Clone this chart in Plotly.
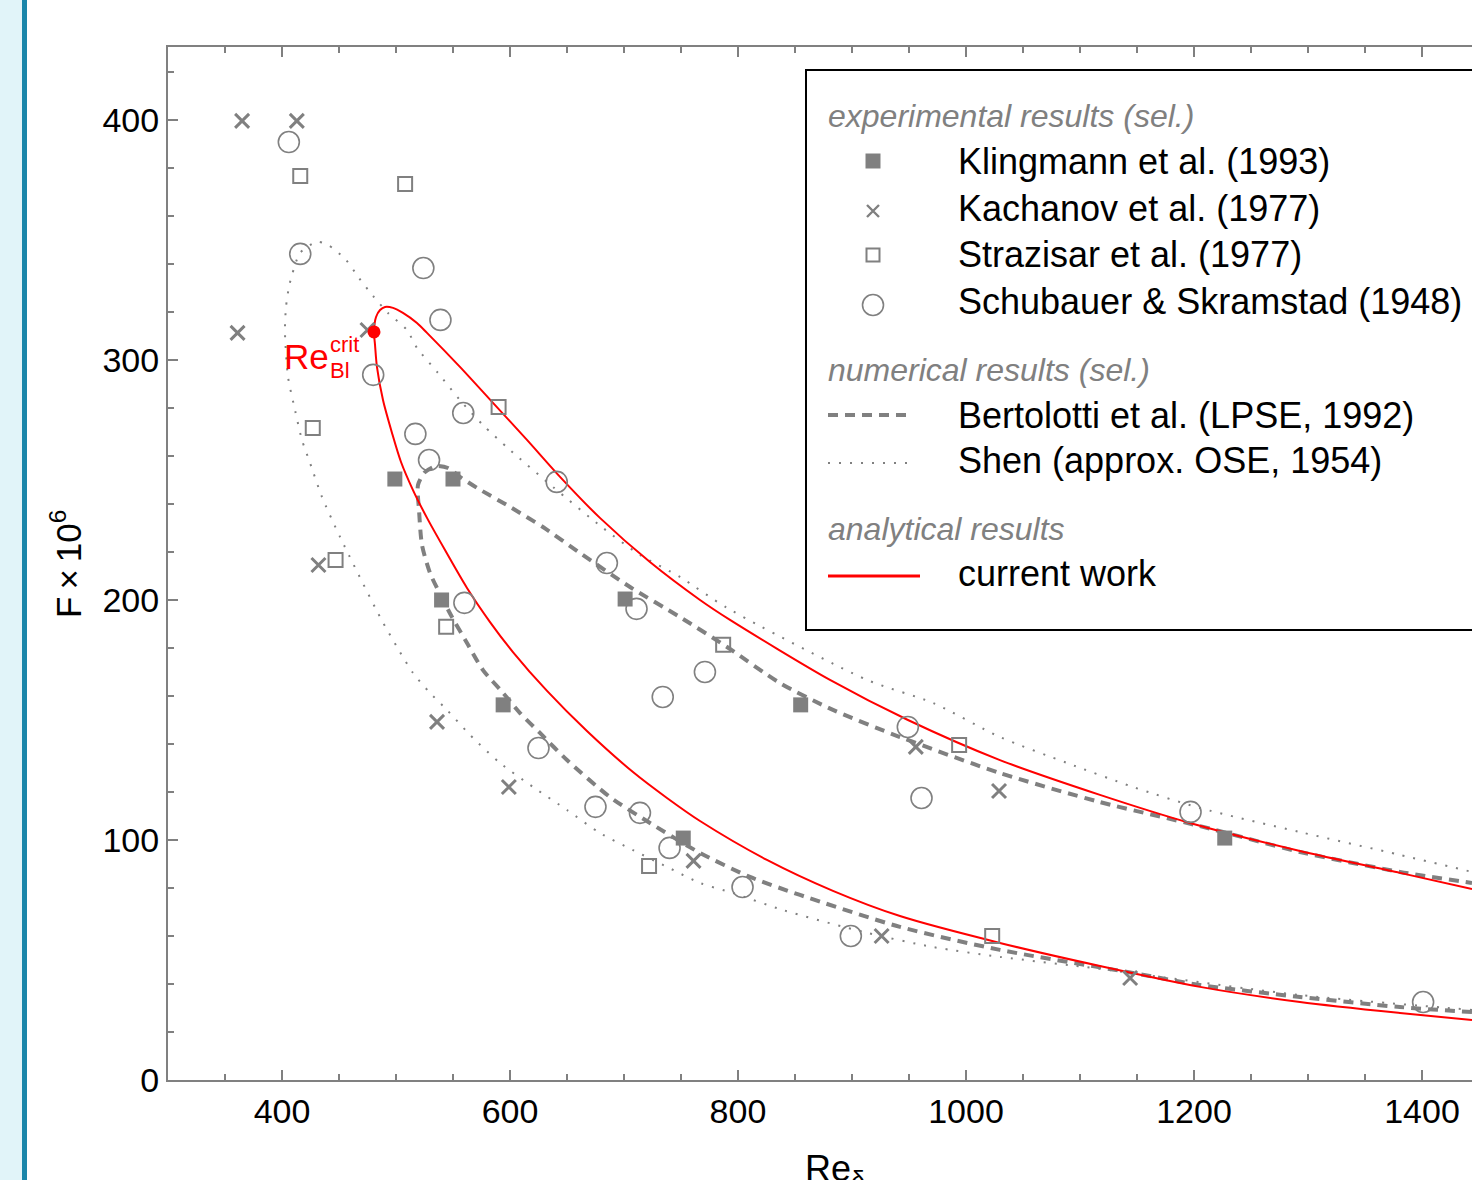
import plotly.graph_objects as go

# ---------------- data ----------------
X_RANGE = [300, 1443.9]
Y_RANGE = [0, 430.4]

klingmann_re = [499, 550, 540, 701, 594, 855, 752, 1227]
klingmann_f = [250.4, 250.4, 200, 200.4, 156.3, 156.3, 100.8, 100.8]

kachanov_re = [365, 413, 361, 475, 432, 536, 599, 761, 956, 1029, 926, 1144]
kachanov_f = [399.6, 399.6, 311.3, 312.5, 214.6, 149.2, 122.1, 91.3, 138.8, 120.4, 60, 42.5]

strazisar_re = [416, 508, 427, 447, 544, 590, 787, 722, 994, 1023]
strazisar_f = [376.7, 373.3, 271.7, 216.7, 188.8, 280.4, 181.3, 89.2, 139.6, 60]

schubauer_re = [406, 416, 524, 539, 480, 559, 517, 529, 641, 685, 711, 560,
                771, 734, 625, 675, 714, 740, 804, 899, 949, 961, 1197, 1401]
schubauer_f = [390.8, 344.2, 338.3, 316.7, 293.8, 277.9, 269.2, 258.3, 249.2, 215.4, 196.3, 198.8,
               170, 159.6, 138.3, 113.8, 111.3, 96.7, 80.4, 60, 147.1, 117.5, 111.7, 32.5]

bertolotti_re = [1443.9, 1380.7, 1293, 1205.3, 1146.5, 1029.8, 942.1, 854.4, 810.5, 766.7, 722.8,
                 687.7, 650, 626.3, 608.8, 593.9, 576.3, 562.3, 549.1, 536.8, 529.8, 522.8, 520.2,
                 519.3, 525.4, 535.1, 545.6, 556.1, 571.1, 600, 628.9, 661.4, 705.3, 749.1, 790.4,
                 836.8, 883.3, 942.1, 1029.8, 1117.5, 1205.3, 1293, 1380.7, 1443.9]
bertolotti_f = [28.3, 30.4, 34.6, 39.6, 44.6, 54.2, 63.8, 77.1, 84.6, 94.6, 107.1,
                117.9, 133.3, 144.6, 152.9, 161.3, 170.8, 182.1, 192.9, 204.2, 211.3, 222.9, 237.5,
                247.9, 253.3, 255.8, 255, 251.3, 246.7, 238.8, 230.4, 219.6, 205.4, 192.9, 180.4,
                165.4, 154.2, 142.9, 127.9, 115.8, 105.8, 95, 86.7, 82.1]

shen_re = [1443.9, 1293, 1117.5, 1029.8, 971.1, 913.2, 839.5, 795.6, 766.7, 737.7, 707.9, 678.9,
           650, 620.2, 591.2, 564.9, 544.7, 529.8, 514.9, 500.9, 486, 450.9, 435.1, 424.6, 417.5,
           411.4, 405.3, 402.6, 403.5, 406.1, 408.8, 415.8, 430.7, 440.4, 456.1, 467.5, 479.8,
           493, 509.6, 518.4, 536.8, 556.1, 576.3, 600, 637.7, 681.6, 714, 749.1, 790.4, 913.2,
           971.1, 1029.8, 1088.6, 1146.5, 1205.3, 1293, 1380.7, 1443.9]
shen_f = [29.2, 35.4, 46.3, 51.3, 55.4, 61.3, 70.8, 77.9, 82.1, 88.8, 95.8, 102.9,
          112.5, 122.1, 132.1, 143.8, 154.2, 161.3, 169.6, 180.4, 192.9, 226.3, 242.9, 257.1, 266.7,
          279.2, 292.9, 311.7, 322.1, 330.4, 335.4, 344.6, 349.2, 347.9, 341.7, 334.2, 326.7,
          319.6, 312.5, 305, 294.6, 283.3, 272.9, 262.5, 247.1, 230, 218.8, 209.6, 196.7, 166.7,
          157.1, 142.9, 132.1, 122.1, 113.3, 103.3, 93.8, 86.7]

current_re = [1443.9, 1380.7, 1293, 1205.3, 1117.5, 1029.8, 942.1, 883.3, 825.4, 766.7, 737.7,
              707.9, 667.5, 632.5, 602.6, 582.5, 562.3, 543, 527.2, 514.9, 504.4, 496.5, 488.6,
              483.3, 481.6, 480.7, 482.5, 486, 490.4, 497.4, 506.1, 518.4, 527.2, 556.1, 585.1,
              614.9, 643.9, 678.9, 722.8, 766.7, 793, 880.7, 949.1, 1029.8, 1117.5, 1196.5, 1293,
              1380.7, 1443.9]
current_f = [25, 27.9, 32.5, 38.8, 47.5, 57.1, 68.3, 78.8, 91.7, 107.9, 117.5,
             128.3, 145.4, 162.1, 178.3, 190.8, 205, 220.8, 234.2, 245.8, 257.5, 269.6, 283.3,
             297.1, 306.3, 311.7, 317.9, 320.8, 322.1, 321.7, 319.6, 315.4, 311.3, 297.1, 282.1,
             266.7, 251.3, 234.2, 215.8, 200, 191.7, 166.7, 150, 133.3, 118.8, 107.1, 95.4,
             86.3, 79.6]

re_crit = [480.7]
f_crit = [311.7]

X_TICKS = [400, 600, 800, 1000, 1200, 1400]
Y_TICKS = [0, 100, 200, 300, 400]

# ---------------- styling ----------------
GRAY = "#808080"
RED = "#ff0000"
FONT = "Liberation Sans, Arial, Helvetica, sans-serif"

W, H = 1472, 1180
ML, MR, MT, MB = 168, 0, 47, 100
PW, PH = W - ML - MR, H - MT - MB


def pxx(x):
    return (x - ML) / PW


def pxy(y):
    return (H - MB - y) / PH


fig = go.Figure()

# curves
fig.add_trace(go.Scatter(x=shen_re, y=shen_f, mode="lines",
                         line=dict(color=GRAY, width=2, dash="2px,9px", shape="spline", smoothing=0.7),
                         showlegend=False, hoverinfo="skip"))
fig.add_trace(go.Scatter(x=bertolotti_re, y=bertolotti_f, mode="lines",
                         line=dict(color=GRAY, width=4, dash="10px,7px", shape="spline", smoothing=0.7),
                         showlegend=False, hoverinfo="skip"))
fig.add_trace(go.Scatter(x=current_re, y=current_f, mode="lines",
                         line=dict(color=RED, width=2, shape="spline", smoothing=0.8),
                         showlegend=False, hoverinfo="skip"))

# experimental markers
M_KLING = dict(symbol="square", size=15, color=GRAY, line=dict(width=0))
M_KACH = dict(symbol="x-thin", size=14, color=GRAY, line=dict(width=3, color=GRAY))
M_STRAZ = dict(symbol="square-open", size=14, color=GRAY, line=dict(width=2, color=GRAY))
M_SCHUB = dict(symbol="circle-open", size=21, color=GRAY, line=dict(width=1.6, color=GRAY))

fig.add_trace(go.Scatter(x=klingmann_re, y=klingmann_f, mode="markers", marker=M_KLING, showlegend=False))
fig.add_trace(go.Scatter(x=kachanov_re, y=kachanov_f, mode="markers", marker=M_KACH, showlegend=False))
fig.add_trace(go.Scatter(x=strazisar_re, y=strazisar_f, mode="markers", marker=M_STRAZ, showlegend=False))
fig.add_trace(go.Scatter(x=schubauer_re, y=schubauer_f, mode="markers", marker=M_SCHUB, showlegend=False))
fig.add_trace(go.Scatter(x=re_crit, y=f_crit, mode="markers",
                         marker=dict(symbol="circle", size=13, color=RED), showlegend=False))

# ---------------- hand-made legend (overlay axes in pixel units) ----------------
LEG_SYM_X = 873
leg_markers = [(M_KLING, 161), (dict(M_KACH, size=12, line=dict(width=2.4, color=GRAY)), 211),
               (dict(M_STRAZ, size=13), 255), (M_SCHUB, 305)]
for m, yy in leg_markers:
    fig.add_trace(go.Scatter(x=[LEG_SYM_X], y=[yy], mode="markers", marker=m, xaxis="x2", yaxis="y2",
                             showlegend=False, hoverinfo="skip", cliponaxis=False))
fig.add_trace(go.Scatter(x=[828, 912], y=[415, 415], mode="lines", xaxis="x2", yaxis="y2",
                         line=dict(color=GRAY, width=4, dash="10px,7px"), showlegend=False, hoverinfo="skip"))
fig.add_trace(go.Scatter(x=[828, 912], y=[463, 463], mode="lines", xaxis="x2", yaxis="y2",
                         line=dict(color=GRAY, width=2, dash="2px,9px"), showlegend=False, hoverinfo="skip"))
fig.add_trace(go.Scatter(x=[828, 920], y=[576, 576], mode="lines", xaxis="x2", yaxis="y2",
                         line=dict(color=RED, width=3), showlegend=False, hoverinfo="skip"))

annotations = []


def txt(text, x, y, size, color="black", italic=False, xanchor="left", yanchor="middle", angle=0):
    annotations.append(dict(text=text, x=pxx(x), y=pxy(y), xref="paper", yref="paper",
                            xanchor=xanchor, yanchor=yanchor, showarrow=False, textangle=angle,
                            font=dict(family=FONT, size=size, color=color,
                                      style="italic" if italic else "normal")))


HEAD = 32
ITEM = 36
txt("experimental results (sel.)", 826, 116, HEAD, GRAY, italic=True)
txt("Klingmann et al. (1993)", 956, 161, ITEM)
txt("Kachanov et al. (1977)", 956, 208, ITEM)
txt("Strazisar et al. (1977)", 956, 254, ITEM)
txt("Schubauer &amp; Skramstad (1948)", 956, 301, ITEM)
txt("numerical results (sel.)", 826, 370, HEAD, GRAY, italic=True)
txt("Bertolotti et al. (LPSE, 1992)", 956, 415, ITEM)
txt("Shen (approx. OSE, 1954)", 956, 461, ITEM)
txt("analytical results", 826, 529, HEAD, GRAY, italic=True)
txt("current work", 956, 573, ITEM)

# critical Reynolds number label
txt("Re", 282, 356, 35, RED)
txt("crit", 328, 344, 22, RED)
txt("Bl", 328, 371, 22, RED)

# axis titles
txt("F\u2009\u00d7\u200910<sup>6</sup>", 66, 564, 35, angle=-90, xanchor="center")
txt("Re<sub>\u03b4\u2081</sub>", 803, 1146, 36, yanchor="top")

shapes = [
    dict(type="rect", xref="paper", yref="paper", x0=pxx(0), x1=pxx(22), y0=pxy(H), y1=pxy(0),
         fillcolor="#e1f4f9", line=dict(width=0), layer="below"),
    dict(type="rect", xref="paper", yref="paper", x0=pxx(22), x1=pxx(27), y0=pxy(H), y1=pxy(0),
         fillcolor="#1a86aa", line=dict(width=0), layer="below"),
    dict(type="rect", xref="paper", yref="paper", x0=pxx(806), x1=pxx(1510), y0=pxy(630), y1=pxy(70),
         fillcolor="rgba(0,0,0,0)", line=dict(width=2, color="black"), layer="above"),
]

axis_common = dict(showgrid=False, zeroline=False, showline=True, linecolor=GRAY, linewidth=2,
                   ticks="inside", ticklen=10, tickwidth=2, tickcolor=GRAY,
                   tickfont=dict(family=FONT, size=34, color="black"))

fig.update_layout(
    width=W, height=H, margin=dict(l=ML, r=MR, t=MT, b=MB, pad=0),
    paper_bgcolor="white", plot_bgcolor="white", showlegend=False,
    xaxis=dict(axis_common, range=X_RANGE, tickmode="array", tickvals=X_TICKS, mirror="ticks",
               minor=dict(dtick=50, tick0=0, ticks="inside", ticklen=6, tickwidth=2, tickcolor=GRAY,
                          showgrid=False)),
    yaxis=dict(axis_common, range=Y_RANGE, tickmode="array", tickvals=Y_TICKS, mirror=False,
               minor=dict(dtick=20, tick0=0, ticks="inside", ticklen=6, tickwidth=2, tickcolor=GRAY,
                          showgrid=False)),
    xaxis2=dict(overlaying="x", range=[ML, W - MR], visible=False, fixedrange=True),
    yaxis2=dict(overlaying="y", range=[H - MB, MT], visible=False, fixedrange=True),
    annotations=annotations, shapes=shapes,
)

fig.write_html("out.html", config={"displayModeBar": False},
               post_script="document.body.style.margin='0';document.body.style.overflow='hidden';")
